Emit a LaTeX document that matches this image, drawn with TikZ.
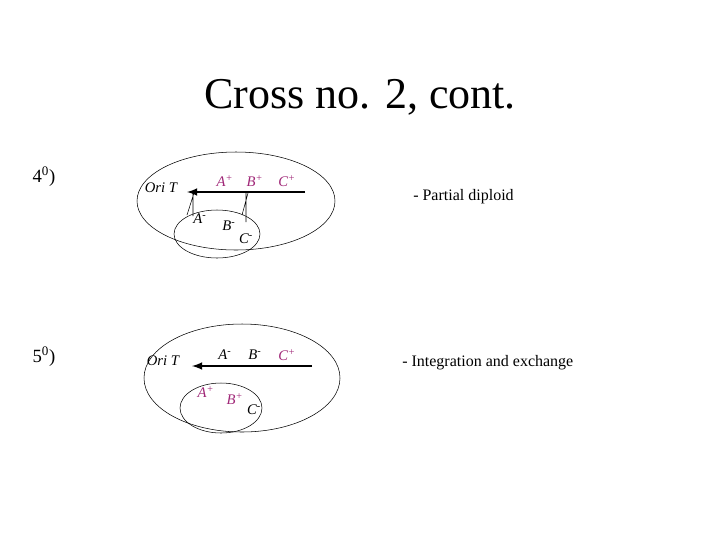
\documentclass[tikz,border=0pt]{standalone}
\usepackage{fontspec}
\setmainfont{Liberation Serif}
\definecolor{mag}{RGB}{160,40,120}
\begin{document}
\begin{tikzpicture}[x=0.75pt,y=-0.75pt,
  lab/.style={inner sep=0pt,font=\itshape\fontsize{11}{12}\selectfont},
  mlab/.style={lab,text=mag},
  txt/.style={inner sep=0pt,font=\fontsize{12}{14}\selectfont},
  chrom/.style={line width=1.6pt,-latex}]
\useasboundingbox (0,0) rectangle (720,540);
\node[inner sep=0pt,font=\fontsize{33}{36}\selectfont] (title) at (360,97) {Cross no. 2, cont.};
\node[inner sep=0pt,font=\fontsize{14}{16}\selectfont] (n4) at (44,177) {4\textsuperscript{0})};
\node[inner sep=0pt,font=\fontsize{14}{16}\selectfont] (n5) at (44,357) {5\textsuperscript{0})};
\node[txt,anchor=west] (t1) at (413,197) {- Partial diploid};
\node[txt,anchor=west] (t2) at (402,363) {- Integration and exchange};
% panel 1
\draw (236,201) ellipse [x radius=99,y radius=49];
\draw (217,234) ellipse [x radius=43,y radius=24];
\coordinate (s1) at (305,192); \coordinate (e1) at (187,192);
\draw[chrom] (s1) -- (e1);
\node[lab] (o1) at (161,188) {Ori T};
\node[mlab] (a1) at (225,181) {A\textsuperscript{+}};
\node[mlab] (b1) at (255,181) {B\textsuperscript{+}};
\node[mlab] (c1) at (287,181) {C\textsuperscript{+}};
\node[lab] (a2) at (200,219) {A\textsuperscript{-}};
\node[lab] (b2) at (229,226) {B\textsuperscript{-}};
\node[lab] (c2) at (246,239) {C\textsuperscript{-}};
\draw (193,193) -- (193,216) (187,215) -- (194,193);
\draw (246,193) -- (246,222) (242,215) -- (248,193);
% panel 2
\draw (242,378) ellipse [x radius=98,y radius=54];
\draw (221,408) ellipse [x radius=41,y radius=25];
\coordinate (s2) at (312,366); \coordinate (e2) at (192,366);
\draw[chrom] (s2) -- (e2);
\node[lab] (o2) at (163,361) {Ori T};
\node[lab] (a3) at (225,355) {A\textsuperscript{-}};
\node[lab] (b3) at (255,355) {B\textsuperscript{-}};
\node[mlab] (c3) at (287,355) {C\textsuperscript{+}};
\node[mlab] (a4) at (206,392) {A\textsuperscript{+}};
\node[mlab] (b4) at (235,399) {B\textsuperscript{+}};
\node[lab] (c4) at (254,410) {C\textsuperscript{-}};
\end{tikzpicture}
\end{document}
